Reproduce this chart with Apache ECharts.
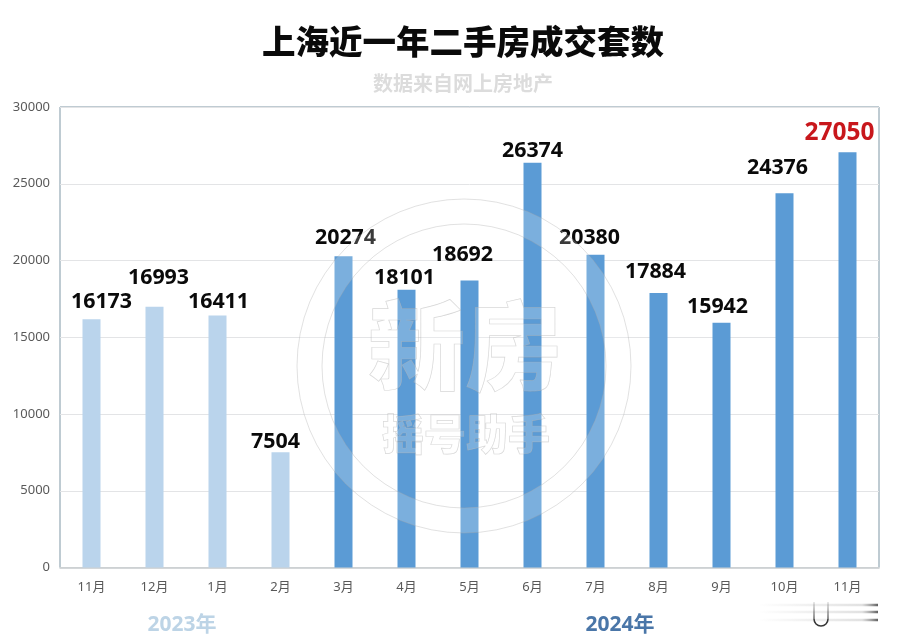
<!DOCTYPE html>
<html>
<head>
<meta charset="utf-8">
<title>上海近一年二手房成交套数</title>
<script src="https://cdn.jsdelivr.net/npm/echarts@6/dist/echarts.min.js"></script>
<style>
html, body {margin: 0; padding: 0; background: #fff;}
#main {width: 898px; height: 644px;}
</style>
</head>
<body>
<div id="main"></div>
<script>
const months = ['11月', '12月', '1月', '2月', '3月', '4月', '5月', '6月', '7月', '8月', '9月', '10月', '11月'];
const years = [2023, 2023, 2023, 2023, 2024, 2024, 2024, 2024, 2024, 2024, 2024, 2024, 2024];
const deals = [16173, 16993, 16411, 7504, 20274, 18101, 18692, 26374, 20380, 17884, 15942, 24376, 27050];
const yTicks = [0, 5000, 10000, 15000, 20000, 25000, 30000];

// labels sit off-centre in the picture, nudged by hand
const labelDx = [10, 4, 1, -5, 2, -2, -7, 0, -6, -3, -4, -7, -8];
const labelDy = [-7, -18.5, -3.5, 0, -8, -1.5, -15.5, -1.5, -6.5, -10.5, -5.5, -14.5, -7];

const FONT = '"Noto Sans CJK SC", "Noto Sans", sans-serif';
const LATIN_FONT = '"Noto Sans", "Noto Sans CJK SC", sans-serif';
const barColor = {2023: '#bad4ec', 2024: '#5b9bd5'};
const markStroke = 'rgba(170,170,170,0.5)';
const markFill = 'rgba(255,255,255,0.2)';

const myChart = echarts.init(document.getElementById('main'), null, {renderer: 'canvas'});

function watermarkText(text, x, y, size) {
    return {
        type: 'text',
        z: 20,
        silent: true,
        style: {
            text: text,
            x: x,
            y: y,
            align: 'center',
            verticalAlign: 'middle',
            font: '900 ' + size + 'px ' + FONT,
            fill: markFill,
            stroke: markStroke,
            lineWidth: 0.7
        }
    };
}

function smudgeLine(y, x1) {
    return {
        type: 'line',
        z: 20,
        silent: true,
        shape: {x1: x1, y1: y, x2: 878, y2: y},
        style: {
            lineWidth: 2.5,
            stroke: new echarts.graphic.LinearGradient(0, 0, 1, 0, [
                {offset: 0, color: 'rgba(120,120,120,0)'},
                {offset: 0.85, color: 'rgba(120,120,120,0.22)'},
                {offset: 1, color: 'rgba(20,20,20,0.8)'}
            ])
        }
    };
}

function badgeSide(x) {
    return {
        type: 'line',
        z: 21,
        silent: true,
        shape: {x1: x, y1: 602, x2: x, y2: 619},
        style: {
            lineWidth: 2,
            stroke: new echarts.graphic.LinearGradient(0, 0, 0, 1, [
                {offset: 0, color: 'rgba(60,60,60,0.05)'},
                {offset: 1, color: 'rgba(40,40,40,0.6)'}
            ])
        }
    };
}

myChart.setOption({
    backgroundColor: '#fff',
    animation: false,
    title: [
        {
            text: '上海近一年二手房成交套数',
            left: 463,
            top: 18,
            padding: 0,
            textAlign: 'center',
            textStyle: {fontFamily: FONT, fontSize: 33.5, fontWeight: 900, color: '#0a0a0a', lineHeight: 46}
        },
        {
            text: '数据来自网上房地产',
            left: 463,
            top: 70,
            padding: 0,
            textAlign: 'center',
            textStyle: {fontFamily: FONT, fontSize: 20, fontWeight: 700, color: '#dcdcdc', lineHeight: 26}
        }
    ],
    grid: {
        left: 60,
        right: 19,
        top: 107,
        height: 460.5,
        show: true,
        borderColor: '#7f97a5',
        borderWidth: 1
    },
    xAxis: {
        type: 'category',
        data: months,
        axisTick: {show: false},
        axisLine: {lineStyle: {color: '#c6cacd', width: 1.5}},
        axisLabel: {margin: 13, fontFamily: LATIN_FONT, fontSize: 13, color: '#595959'}
    },
    yAxis: {
        type: 'value',
        min: yTicks[0],
        max: yTicks[yTicks.length - 1],
        interval: yTicks[1],
        axisLine: {show: false},
        axisTick: {show: false},
        axisLabel: {
            margin: 10,
            fontFamily: LATIN_FONT,
            fontSize: 13,
            color: '#595959',
            padding: [3, 0, 0, 0],
            formatter: val => String(val)
        },
        splitLine: {lineStyle: {color: '#e3e4e6', width: 1}}
    },
    series: [{
        type: 'bar',
        barWidth: 18,
        data: deals.map((v, i) => ({
            value: v,
            itemStyle: {color: barColor[years[i]]},
            label: {
                offset: [labelDx[i], labelDy[i]],
                color: i === deals.length - 1 ? '#c8171c' : '#0a0a0a',
                fontSize: i === deals.length - 1 ? 24.5 : 21.4
            }
        })),
        label: {
            show: true,
            position: 'top',
            distance: 0,
            fontFamily: '"Noto Sans", sans-serif',
            fontWeight: 700
        }
    }],
    graphic: [
        {
            type: 'ring',
            z: 20,
            silent: true,
            shape: {cx: 464, cy: 366, r: 167, r0: 142},
            style: {fill: markFill, stroke: markStroke, lineWidth: 0.7}
        },
        watermarkText('新房', 465, 345, 97),
        watermarkText('摇号助手', 466, 434, 42),
        {
            type: 'text',
            style: {
                text: '2023年', x: 182, y: 625, align: 'center', verticalAlign: 'middle',
                font: '700 21px ' + LATIN_FONT, fill: '#bdd4e6'
            }
        },
        {
            type: 'text',
            style: {
                text: '2024年', x: 620, y: 625, align: 'center', verticalAlign: 'middle',
                font: '700 21px ' + LATIN_FONT, fill: '#4a76a8'
            }
        },
        // blurred badge in the lower right corner
        smudgeLine(605, 760),
        smudgeLine(612, 760),
        smudgeLine(620, 760),
        badgeSide(814),
        badgeSide(828),
        {
            type: 'arc',
            z: 21,
            silent: true,
            shape: {cx: 821, cy: 619, r: 7, startAngle: 0, endAngle: Math.PI},
            style: {fill: 'none', stroke: 'rgba(20,20,20,0.85)', lineWidth: 1.5}
        }
    ]
});
</script>
</body>
</html>
